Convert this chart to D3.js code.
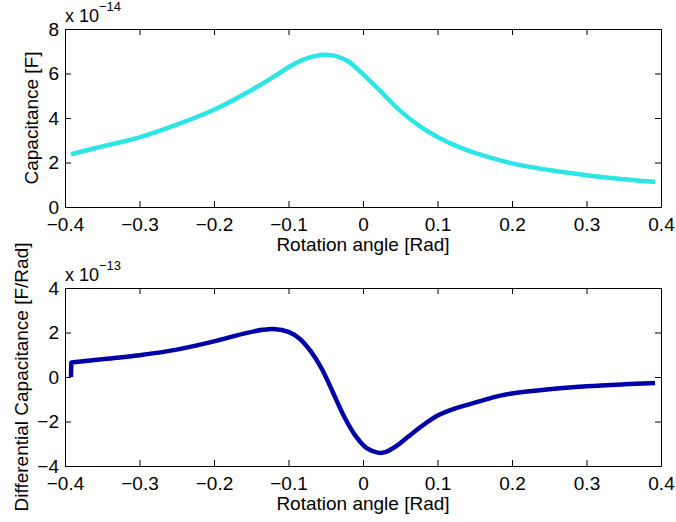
<!DOCTYPE html>
<html>
<head>
<meta charset="utf-8">
<script src="https://d3js.org/d3.v7.min.js"></script>
<style>
  html, body { margin: 0; padding: 0; background: #fff; }
  svg text { font-family: "Liberation Sans", Arial, sans-serif; fill: #000; }
</style>
</head>
<body>
<div id="chart"></div>
<script>
// rotation angle [rad] and capacitance [x 1e-14 F]
var capAngle = [-0.392, -0.35, -0.3, -0.25, -0.2, -0.15, -0.12, -0.1, -0.08, -0.065, -0.05, -0.035, -0.02, 0,
                0.025, 0.05, 0.075, 0.1, 0.13, 0.16, 0.2, 0.25, 0.3, 0.35, 0.392];
var capValue = [2.37, 2.72, 3.13, 3.7, 4.37, 5.25, 5.85, 6.28, 6.62, 6.78, 6.84, 6.77, 6.55, 5.97,
                5.15, 4.32, 3.66, 3.15, 2.68, 2.33, 1.96, 1.66, 1.43, 1.25, 1.13];

// differential capacitance [x 1e-13 F/rad], first sample is the zero pad of the diff
var dcapAngle = [-0.392, -0.3915, -0.35, -0.3, -0.25, -0.2, -0.16, -0.135, -0.12, -0.1, -0.085, -0.07, -0.055,
                 -0.04, -0.025, -0.01, 0.005, 0.02, 0.03, 0.045, 0.06, 0.08, 0.1, 0.12, 0.14, 0.183, 0.2, 0.25, 0.3, 0.35, 0.392];
var dcapValue = [0, 0.65, 0.8, 0.98, 1.23, 1.6, 1.95, 2.12, 2.16, 2.03, 1.72, 1.15, 0.35,
                 -0.72, -1.8, -2.65, -3.2, -3.4, -3.38, -3.1, -2.7, -2.18, -1.73, -1.45, -1.25, -0.85, -0.74, -0.55, -0.42, -0.33, -0.27];

var xTicks = [-0.4, -0.3, -0.2, -0.1, 0, 0.1, 0.2, 0.3, 0.4];
var capTicks = [0, 2, 4, 6, 8];
var dcapTicks = [-4, -2, 0, 2, 4];

var W = 676, H = 522;
var svg = d3.select('#chart').append('svg').attr('width', W).attr('height', H);

var x = d3.scaleLinear().domain([-0.4, 0.4]).range([65, 661]);

function fmt(v) {
    // matlab style minus sign
    var s = String(+v.toFixed(2));
    return s.replace('-', '\u2212');
}

function panel(opt) {
    var y = d3.scaleLinear().domain(opt.domain).range([opt.bottom, opt.top]);
    var g = svg.append('g');

    var pts = d3.zip(opt.xs, opt.ys);
    var line = d3.line()
        .x(function(d) { return x(d[0]); })
        .y(function(d) { return y(d[1]); })
        .curve(d3.curveCatmullRom.alpha(0.5));
    var d;
    if (opt.step) {
        // straight jump from the padded zero, smooth after that
        d = 'M' + x(pts[0][0]) + ',' + y(pts[0][1]) + 'L' + line(pts.slice(1)).slice(1);
    } else {
        d = line(pts);
    }
    g.append('path')
        .attr('d', d)
        .attr('fill', 'none')
        .attr('stroke', opt.color)
        .attr('stroke-width', 4.5)
        .attr('stroke-linejoin', 'round');

    // axes with inward ticks on all sides
    var ax = [
        [d3.axisBottom(x), 0, opt.bottom, true],
        [d3.axisTop(x), 0, opt.top, false],
        [d3.axisLeft(y), 65, 0, true],
        [d3.axisRight(y), 661, 0, false]
    ];
    ax.forEach(function(a, i) {
        var axis = a[0].tickSizeInner(-6).tickSizeOuter(0)
            .tickValues(i < 2 ? xTicks : opt.ticks)
            .tickFormat(a[3] ? fmt : '');
        var ag = g.append('g').attr('transform', 'translate(' + a[1] + ',' + a[2] + ')').call(axis);
        ag.select('.domain').attr('stroke', '#000').attr('stroke-width', 1);
        ag.selectAll('.tick line').attr('stroke', '#000');
        ag.selectAll('text').style('font-size', '19px');
        if (i === 0) ag.selectAll('text').attr('dy', null).attr('y', 24);
        if (i === 2) ag.selectAll('text').attr('x', -6).attr('dy', '0.34em');
    });

    g.append('text')
        .attr('x', 363).attr('y', opt.bottom + 44)
        .attr('text-anchor', 'middle')
        .style('font-size', '19px')
        .text('Rotation angle [Rad]');

    g.append('text')
        .attr('transform', 'translate(' + opt.labelX + ',' + ((opt.top + opt.bottom) / 2) + ') rotate(-90)')
        .attr('text-anchor', 'middle')
        .style('font-size', '19px')
        .text(opt.label);

    var ex = g.append('text').attr('x', 65).attr('y', opt.top - 7).style('font-size', '18px');
    ex.append('tspan').text('x 10');
    ex.append('tspan').attr('dy', -11).style('font-size', '13px').text(opt.exp);
}

panel({
    xs: capAngle, ys: capValue, domain: [0, 8], ticks: capTicks,
    top: 29, bottom: 207, color: '#2ee5e5', step: false,
    label: 'Capacitance [F]', labelX: 38, exp: '\u221214'
});

panel({
    xs: dcapAngle, ys: dcapValue, domain: [-4, 4], ticks: dcapTicks,
    top: 288, bottom: 466, color: '#0000a8', step: true,
    label: 'Differential Capacitance [F/Rad]', labelX: 28, exp: '\u221213'
});
</script>
</body>
</html>
